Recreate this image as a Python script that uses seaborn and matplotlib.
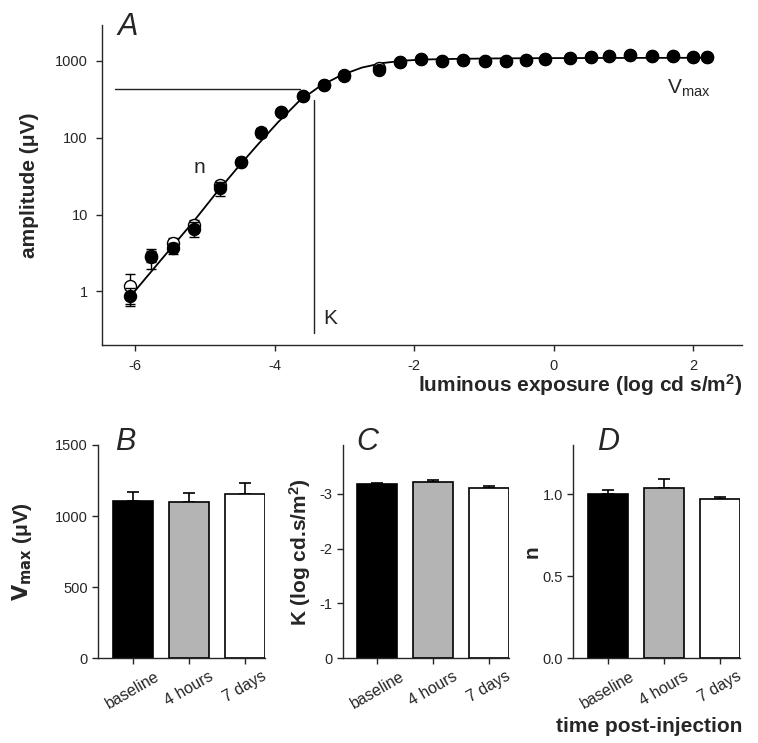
import matplotlib
matplotlib.use("Agg")
import matplotlib.pyplot as plt
import matplotlib.ticker as mticker
import numpy as np
import pandas as pd
import seaborn as sns

# ---- panel A: intensity-response data ----
log_lum = [-6.07, -5.77, -5.46, -5.16, -4.79, -4.49, -4.20, -3.91, -3.60, -3.30,
           -3.00, -2.50, -2.20, -1.90, -1.60, -1.30, -0.99, -0.69, -0.40, -0.13,
           0.23, 0.53, 0.80, 1.10, 1.41, 1.71, 2.00, 2.20]
amp_filled = [0.88, 2.77, 3.67, 6.5, 22, 49, 120, 215, 345, 480,
              650, 770, 980, 1060, 1010, 1030, 1010, 1010, 1030, 1050,
              1090, 1117, 1160, 1190, 1170, 1170, 1117, 1117]
err_filled = [0.23, 0.8, 0.6, 1.4, 4.5, 6, 14, 18, 22, 25,
              30, 30, 30, 30, 30, 30, 30, 30, 30, 30,
              30, 30, 30, 30, 30, 30, 30, 30]
amp_open = [1.19, 2.9, 4.3, 7.4, 24.5, 49, 115, 215, 345, 480,
            640, 800, 980, 1060, 1010, 1030, 1010, 1010, 1030, 1050,
            1090, 1117, 1160, 1190, 1170, 1170, 1117, 1117]
err_open = [0.5, 0.5, 0.65, 1.0, 2.5, 5, 12, 15, 20, 25,
            30, 30, 30, 30, 30, 30, 30, 30, 30, 30,
            30, 30, 30, 30, 30, 30, 30, 30]

# fitted curve
fit_x = [-6.05, -5.75, -5.45, -5.15, -4.85, -4.55, -4.25, -3.95, -3.65, -3.35,
         -3.05, -2.75, -2.45, -2.15, -1.85, -1.4, -0.8, 0.0, 1.0, 2.2]
fit_y = [0.9, 1.9, 4.0, 8.4, 18.5, 39, 80, 160, 300, 470,
         650, 820, 940, 1010, 1045, 1065, 1080, 1090, 1095, 1100]

half_max = 436
k_pos = -3.43

# ---- panels B-D ----
groups = ["baseline", "4 hours", "7 days"]
bar_colors = ["#000000", "#b4b4b4", "#ffffff"]
vmax_vals = [1108, 1101, 1153]
vmax_err = [63, 63, 82]
k_vals = [-3.17, -3.21, -3.11]
k_err = [0.035, 0.04, 0.025]
n_vals = [1.0, 1.04, 0.97]
n_err = [0.026, 0.05, 0.014]

sns.set_style("ticks")
plt.rcParams['font.family'] = ['Liberation Sans', 'DejaVu Sans']
plt.rcParams['axes.unicode_minus'] = False
plt.rcParams['axes.linewidth'] = 1.0
plt.rcParams['xtick.major.size'] = 4
plt.rcParams['ytick.major.size'] = 4
plt.rcParams['xtick.major.width'] = 1.0
plt.rcParams['ytick.major.width'] = 1.0
plt.rcParams['xtick.direction'] = 'out'
plt.rcParams['ytick.direction'] = 'out'

fig = plt.figure(figsize=(7.58, 7.43), dpi=100)
W, H = 758.0, 743.0


def box(l, t, r, b):
    return [l / W, 1 - b / H, (r - l) / W, (b - t) / H]


# ---------------- panel A ----------------
ax = fig.add_axes(box(101.7, 25, 742, 345))
ax.set_yscale("log")
sns.lineplot(x=fit_x, y=fit_y, color="black", lw=1.3, ax=ax, zorder=2)
ax.errorbar(log_lum, amp_open, yerr=err_open, fmt="none", ecolor="black",
            elinewidth=1.0, capsize=3.5, capthick=1.0, zorder=3)
sns.scatterplot(x=log_lum, y=amp_open, color="white", edgecolor="black",
                linewidth=1.0, s=75, ax=ax, zorder=3)
ax.errorbar(log_lum, amp_filled, yerr=err_filled, fmt="none", ecolor="black",
            elinewidth=1.0, capsize=3.5, capthick=1.0, zorder=4)
sns.scatterplot(x=log_lum, y=amp_filled, color="black", edgecolor="black",
                linewidth=1.0, s=75, ax=ax, zorder=4)
ax.plot([-6.29, -3.63], [half_max, half_max], color="#222222", lw=1.0)
ax.plot([k_pos, k_pos], [0.29, 310], color="#222222", lw=1.0)
ax.set_xlim(-6.48, 2.70)
ax.set_ylim(0.2, 2940)
ax.set_xticks([-6, -4, -2, 0, 2])
ax.set_yticks([1, 10, 100, 1000])
ax.yaxis.set_minor_locator(mticker.NullLocator())
ax.yaxis.set_major_formatter(mticker.FixedFormatter(["1", "10", "100", "1000"]))
ax.tick_params(labelsize=10.5, pad=6)
sns.despine(ax=ax)
ax.set_xlabel("")
ax.set_ylabel("amplitude (\u03bcV)", fontsize=15, fontweight="bold")
ax.yaxis.set_label_coords(-0.098, 0.5)
ax.text(-5.17, 35, "n", fontsize=15)
ax.text(-3.30, 0.38, "K", fontsize=15)
ax.text(1.62, 380, r"$\mathregular{V_{max}}$", fontsize=15)
fig.text(117 / W, 1 - 35 / H, "A", fontsize=22, style="italic")
fig.text(742 / W, 1 - 385 / H, "luminous exposure (log cd s/m$\\mathregular{^2}$)",
         fontsize=15, fontweight="bold", ha="right", va="center")

# ---------------- panels B, C, D ----------------
specs = [
    (98.3, 265, "B", 115, vmax_vals, vmax_err, "$\\mathbf{V_{max}}$ (\u03bcV)", 22),
    (342.7, 509, "C", 356, k_vals, k_err, "K (log cd.s/m$\\mathregular{^2}$)", 300),
    (573.3, 740, "D", 597, n_vals, n_err, "n", 532),
]
for left, right, letter, lx, vals, errs, ylab, ylab_x in specs:
    bx = fig.add_axes(box(left, 445, right, 658.3))
    df = pd.DataFrame({"group": groups, "value": vals})
    sns.barplot(data=df, x="group", y="value", hue="group", palette=bar_colors,
                edgecolor="black", linewidth=1.2, width=0.72, legend=False,
                ax=bx, zorder=2)
    zeros = np.zeros(3)
    if letter == "C":
        yerr = [errs, zeros]
    else:
        yerr = [zeros, errs]
    bx.errorbar(range(3), vals, yerr=yerr, fmt="none", ecolor="black",
                elinewidth=1.2, capsize=4.3, capthick=1.2, zorder=1)
    bx.set_xlim(-0.62, 2.36)
    bx.set_xlabel("")
    bx.set_ylabel("")
    bx.tick_params(axis="y", labelsize=10.5)
    bx.tick_params(axis="x", labelsize=11.5)
    bx.set_xticks(range(3))
    bx.set_xticklabels(groups, rotation=30, ha="center")
    sns.despine(ax=bx)
    fig.text(lx / W, 1 - 450 / H, letter, fontsize=22, style="italic")
    fig.text(ylab_x / W, 1 - 552 / H, ylab, fontsize=15, fontweight="bold",
             rotation=90, ha="center", va="center")
    if letter == "B":
        bx.set_ylim(0, 1500)
        bx.set_yticks([0, 500, 1000, 1500])
    elif letter == "C":
        bx.set_ylim(0, -3.89)
        bx.set_yticks([0, -1, -2, -3])
    else:
        bx.set_ylim(0, 1.30)
        bx.set_yticks([0.0, 0.5, 1.0])
        bx.yaxis.set_major_formatter(mticker.FormatStrFormatter("%.1f"))

fig.text(742 / W, 1 - 726 / H, "time post-injection", fontsize=15,
         fontweight="bold", ha="right", va="center")

fig.savefig("out.png", dpi=100)
